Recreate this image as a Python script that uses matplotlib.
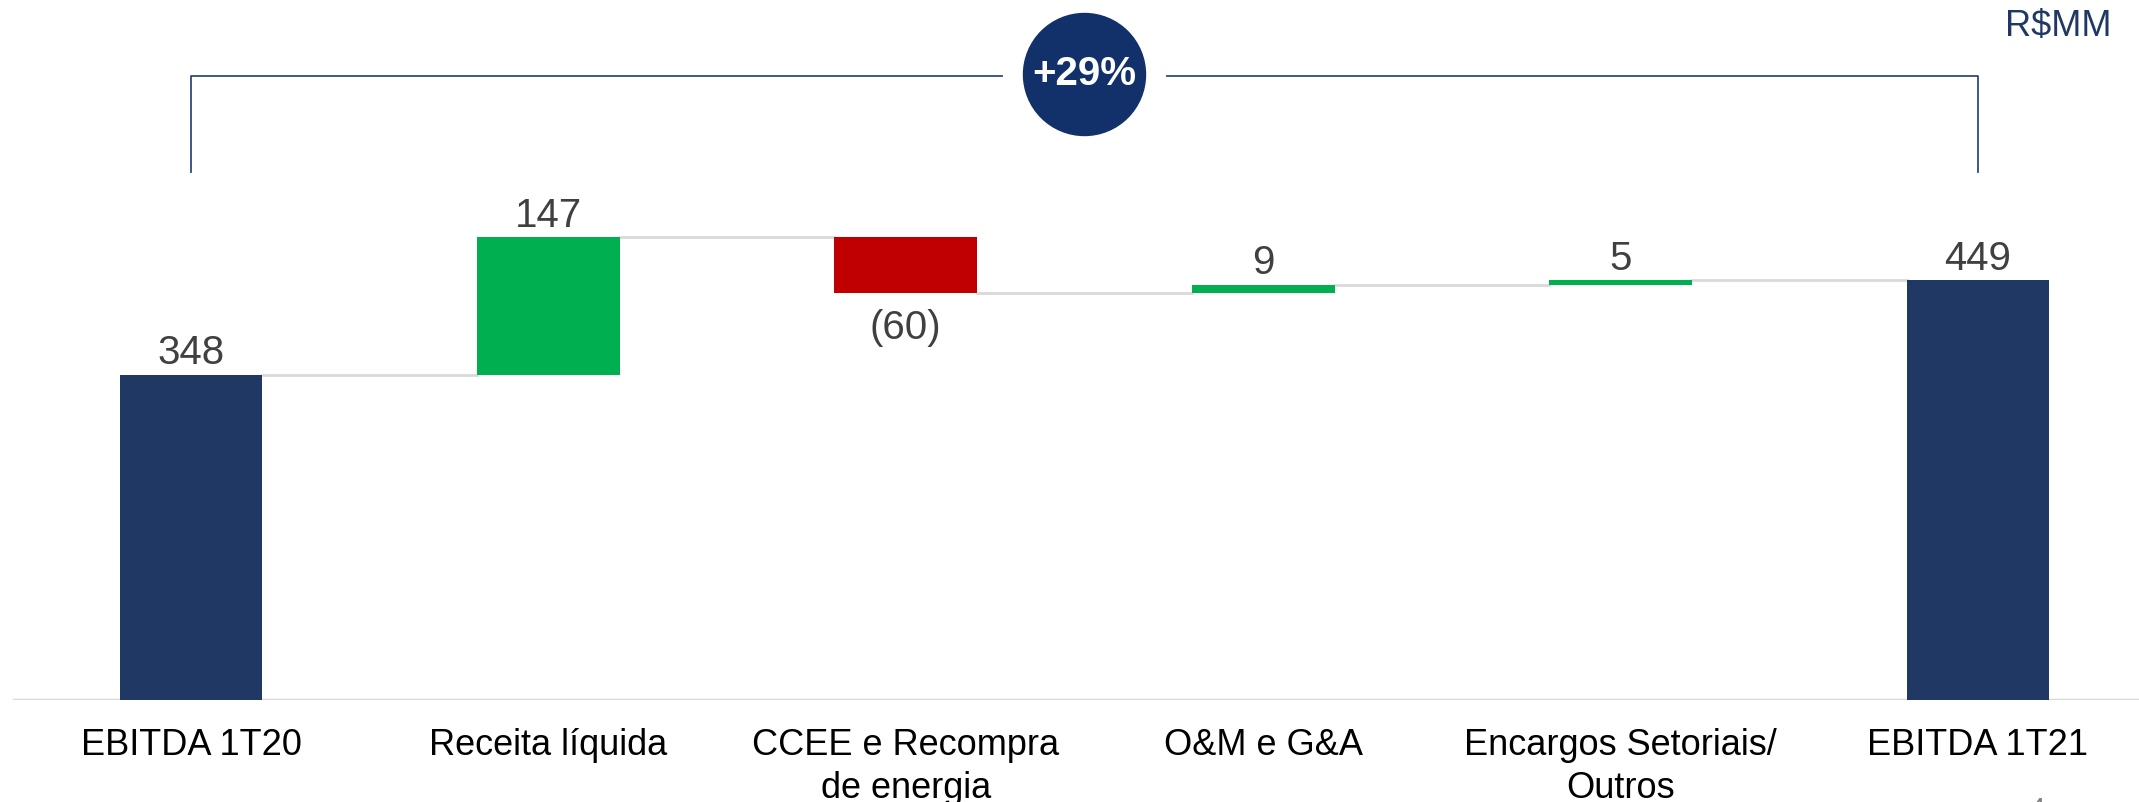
import numpy as np
import matplotlib.pyplot as plt

plt.rcParams['font.family'] = ['Liberation Sans', 'DejaVu Sans']

# data
categories = ["EBITDA 1T20", "Receita líquida", "CCEE e Recompra\nde energia",
              "O&M e G&A", "Encargos Setoriais/\nOutros", "EBITDA 1T21"]
deltas = [348, 147, -60, 9, 5, 449]
labels = ["348", "147", "(60)", "9", "5", "449"]
kinds = ["total", "delta", "delta", "delta", "delta", "total"]
growth_label = "+29%"
unit_label = "R$MM"

navy = "#203864"
green = "#00B050"
red = "#C00000"
grey = "#D9D9D9"

fig = plt.figure(figsize=(21.39, 8.02), dpi=100)
ax = fig.add_axes([0, 102 / 802, 1, 700 / 802])

x = np.arange(len(categories))
width = 0.4

# running totals for the waterfall
bottoms = []
heights = []
colors = []
level = 0
levels = []
for d, k in zip(deltas, kinds):
    if k == "total":
        bottoms.append(0)
        heights.append(d)
        colors.append(navy)
        level = d
    else:
        if d >= 0:
            bottoms.append(level)
            colors.append(green)
        else:
            bottoms.append(level + d)
            colors.append(red)
        heights.append(abs(d))
        level = level + d
    levels.append(level)

ax.bar(x, heights, width, bottom=bottoms, color=colors, zorder=3)

# connectors
for i in range(len(x) - 1):
    ax.plot([x[i] + width / 2, x[i + 1] - width / 2], [levels[i], levels[i]],
            color=grey, lw=2, zorder=2)

# value labels
for i, (d, k) in enumerate(zip(deltas, kinds)):
    if d >= 0:
        ax.annotate(labels[i], (x[i], bottoms[i] + heights[i]), xytext=(0, 2),
                    textcoords="offset points", ha="center", va="bottom",
                    fontsize=29, color="#404040")
    else:
        ax.annotate(labels[i], (x[i], bottoms[i]), xytext=(0, -11),
                    textcoords="offset points", ha="center", va="top",
                    fontsize=29, color="#404040")

# baseline
ax.axhline(0, xmin=14 / 2139, xmax=1, color=grey, lw=2.5, zorder=1)

# growth bracket
br_top = 668
br_bot = 565
mid = (x[0] + x[-1]) / 2
gap = 0.23
bc = "#2F4A80"
ax.plot([x[0], x[0], mid - gap], [br_bot, br_top, br_top], color=bc, lw=1.3)
ax.plot([mid + gap, x[-1], x[-1]], [br_top, br_top, br_bot], color=bc, lw=1.3)
ax.scatter([mid], [670], s=(122 * 0.72) ** 2, color="#12306A", zorder=5,
           clip_on=False)
ax.text(mid, 670, growth_label, ha="center", va="center", fontsize=29,
        fontweight="bold", color="white", zorder=6)

ax.set_xlim(-191 / 357.4, (2139 - 191) / 357.4)
ax.set_ylim(0, 700 / 0.9346)
ax.set_xticks(x)
ax.set_xticklabels(categories, fontsize=26, linespacing=1.3)
ax.tick_params(axis="x", length=0, pad=20)
ax.set_yticks([])
for s in ax.spines.values():
    s.set_visible(False)

fig.text(2112 / 2139, 1 - 27 / 802, unit_label, ha="right", va="center",
         fontsize=26, color="#1F3864")
fig.text(2037 / 2139, 1 - 797 / 802, "4", ha="center", va="top",
         fontsize=20, color="#808080")

fig.savefig("out.png", dpi=100)
